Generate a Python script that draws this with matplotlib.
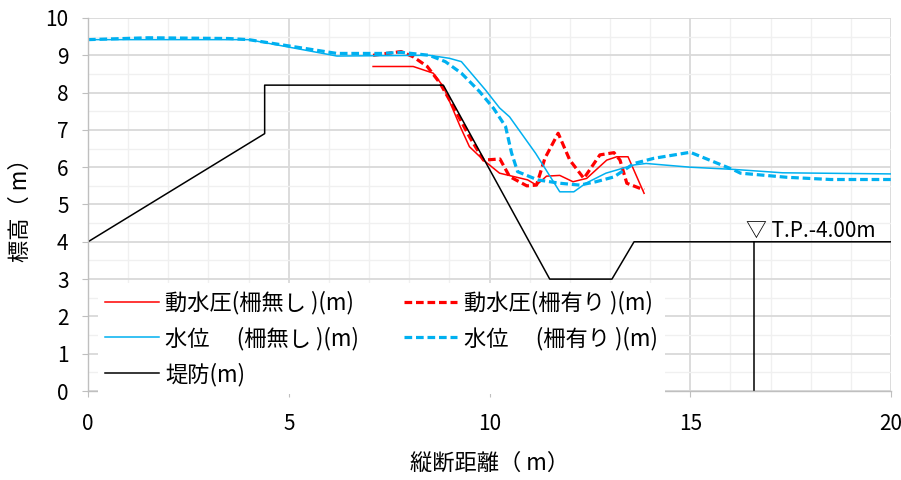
import matplotlib.pyplot as plt
from matplotlib.ticker import MultipleLocator

plt.rcParams['font.family'] = ['Noto Sans CJK JP', 'DejaVu Sans']

# 動水圧(柵無し)
p_none_x = [7.1, 8.1, 8.6, 8.85, 9.27, 9.5, 9.85, 10.25, 10.95, 11.17, 11.42, 11.75, 12.08, 12.42, 12.92, 13.17, 13.45, 13.85]
p_none_y = [8.7, 8.7, 8.52, 8.16, 7.09, 6.55, 6.19, 5.84, 5.66, 5.52, 5.76, 5.78, 5.61, 5.70, 6.19, 6.28, 6.28, 5.3]

# 動水圧(柵有り)
p_fence_x = [7.1, 7.8, 8.1, 8.45, 8.77, 9.1, 9.5, 9.85, 10.26, 10.5, 10.93, 11.17, 11.38, 11.71, 12.0, 12.35, 12.75, 13.1, 13.25, 13.42, 13.85]
p_fence_y = [9.0, 9.1, 8.96, 8.7, 8.25, 7.62, 6.82, 6.19, 6.22, 5.75, 5.50, 5.52, 6.24, 6.91, 6.19, 5.7, 6.33, 6.39, 6.19, 5.57, 5.39]

# 水位(柵無し)
wl_none_x = [0, 4.0, 6.2, 8.5, 9.0, 9.3, 9.9, 10.25, 10.5, 11.15, 11.75, 12.1, 12.4, 12.9, 13.6, 13.9, 15.0, 16.1, 17.3, 20]
wl_none_y = [9.42, 9.42, 8.98, 9.0, 8.92, 8.83, 8.07, 7.59, 7.35, 6.37, 5.34, 5.34, 5.57, 5.84, 6.06, 6.1, 6.0, 5.94, 5.85, 5.82]

# 水位(柵有り)
wl_fence_x = [0, 1.5, 3.5, 4.0, 6.2, 7.3, 7.8, 8.5, 8.9, 9.3, 9.75, 10.1, 10.4, 10.55, 10.7, 11.2, 11.75, 12.25, 12.65, 13.1, 13.6, 14.1, 15.0, 16.1, 16.25, 17.4, 18.5, 20]
wl_fence_y = [9.42, 9.47, 9.45, 9.42, 9.05, 9.05, 9.08, 9.0, 8.83, 8.52, 8.03, 7.58, 7.09, 6.38, 5.88, 5.66, 5.57, 5.52, 5.61, 5.74, 6.1, 6.24, 6.4, 5.92, 5.84, 5.73, 5.67, 5.67]

# 堤防
levee_x = [0, 4.4, 4.4, 8.85, 11.5, 13.05, 13.6, 20]
levee_y = [4.0, 6.9, 8.2, 8.2, 3.0, 3.0, 4.0, 4.0]

# T.P. marker
tp_x = 16.6
tp_y = 4.0

fig = plt.figure(figsize=(9.01, 4.8), dpi=100)
ax = fig.add_axes([88/901, 1 - 391/480, 803/901, 373/480])

red = '#ff0000'
blue = '#00b0f0'
dash = (0, (2.4, 1.2))

h1, = ax.plot(p_none_x, p_none_y, color=red, lw=1.1, label='動水圧(柵無し )(m)')
h2, = ax.plot(p_fence_x, p_fence_y, color=red, lw=2.3, linestyle=dash, label='動水圧(柵有り )(m)')
h3, = ax.plot(wl_none_x, wl_none_y, color=blue, lw=1.1, label='水位\u3000 (柵無し )(m)')
h4, = ax.plot(wl_fence_x, wl_fence_y, color=blue, lw=2.3, linestyle=dash, label='水位\u3000 (柵有り )(m)')
h5, = ax.plot(levee_x, levee_y, color='black', lw=1.1, label='堤防(m)')

# T.P. line and label
ax.plot([tp_x, tp_x], [0, tp_y], color='black', lw=1.1)
ax.text(tp_x - 0.22, tp_y + 0.0, '▽ T.P.-4.00m', fontsize=15, ha='left', va='bottom')

ax.set_xlim(0, 20)
ax.set_ylim(0, 10)
ax.xaxis.set_major_locator(MultipleLocator(5))
ax.xaxis.set_minor_locator(MultipleLocator(1))
ax.yaxis.set_major_locator(MultipleLocator(1))
ax.yaxis.set_minor_locator(MultipleLocator(0.5))

ax.grid(which='major', color='#d9d9d9', lw=1.3)
ax.grid(which='minor', color='#f0f0f0', lw=1.0)
ax.set_axisbelow(True)

for s in ['top', 'right']:
    ax.spines[s].set_visible(False)
for s in ['left', 'bottom']:
    ax.spines[s].set_color('#bfbfbf')
    ax.spines[s].set_linewidth(1.0)

ax.tick_params(which='major', direction='out', length=4, color='#bfbfbf', labelsize=15)
ax.tick_params(axis='x', pad=12)
ax.tick_params(axis='y', pad=10)
ax.tick_params(which='minor', length=0)

ax.set_xlabel('縦断距離（ m）', fontsize=16, labelpad=12)
ax.set_ylabel('標高（ m）', fontsize=16, labelpad=10)

# row-wise legend order for 2 columns
handles = [h1, h3, h5, h2, h4]
leg = ax.legend(handles=handles, ncol=2, loc='upper left', bbox_to_anchor=(0.012, 0.29), fontsize=16,
                frameon=True, facecolor='white', edgecolor='none', framealpha=1,
                fancybox=False, handlelength=2.4, handletextpad=0.3,
                columnspacing=2.0, labelspacing=0.55, borderpad=0.35, borderaxespad=0)
leg.set_zorder(5)

fig.savefig('out.png', dpi=100)
